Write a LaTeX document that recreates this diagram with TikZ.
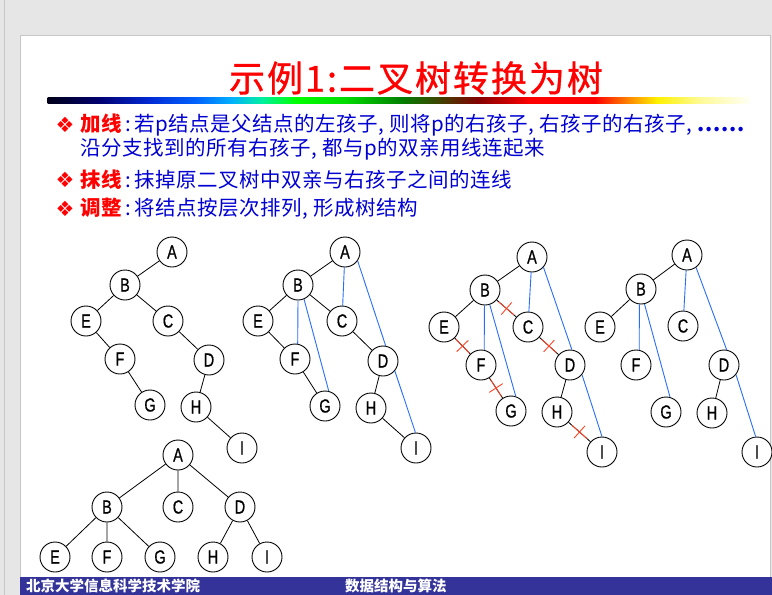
\documentclass[tikz,border=0pt]{standalone}
\usepackage{graphicx}
\usepackage{fontspec}
\usetikzlibrary{calc}
\setmainfont{Liberation Sans}
\newfontfamily\cjk{Noto Sans CJK SC}
\newfontfamily\cjktitle{Noto Sans CJK SC}[FakeBold=0.8, LetterSpace=5.5]
\newfontfamily\cjkrule{Noto Sans CJK SC}[LetterSpace=2.5]
\newfontfamily\dingfont{DejaVu Sans}
\newfontfamily\nodefont{Liberation Sans}[FakeBold=0.9]

\definecolor{slidegray}{RGB}{230,230,230}
\definecolor{framegray}{RGB}{198,198,198}
\definecolor{footblue}{RGB}{51,51,153}
\definecolor{textblue}{RGB}{0,0,210}
\definecolor{linkblue}{RGB}{40,110,250}
\definecolor{cutred}{RGB}{255,70,40}

% letters inside the tree nodes are set narrow
\newcommand\lab[1]{\scalebox{0.76}[1]{#1}}
% a cut mark across the edge between two nodes
\newcommand\cutmark[2]{%
  \coordinate (cm) at ($(#1)!0.5!(#2)$);
  \draw[cut] ($(cm)!10pt!(#1)$) -- ($(cm)!10pt!(#2)$);
  \draw[cut] ($(cm)!8pt!90:(#2)$) -- ($(cm)!8pt!-90:(#2)$);}

\tikzset{
  tn/.style={circle, draw, line width=0.9pt, minimum size=30pt, inner sep=0pt,
    fill=white, font=\nodefont\fontsize{19}{19}\selectfont},
  edge/.style={line width=0.8pt},
  link/.style={linkblue, line width=0.9pt},
  cut/.style={cutred, line width=0.9pt},
  bullet/.style={text=red, font=\dingfont\fontsize{21}{21}\selectfont, inner sep=0pt},
  rule/.style={anchor=west, inner sep=0pt, text=textblue,
    font=\cjkrule\fontsize{20.5}{20.5}\selectfont},
  foot/.style={anchor=west, inner sep=0pt, text=white,
    font=\cjk\bfseries\fontsize{14.5}{14.5}\selectfont},
}

\begin{document}
\begin{tikzpicture}[x=1pt, y=-1pt]
\useasboundingbox (0,0) rectangle (772,595);

% window backdrop and slide sheet
\fill[slidegray] (0,0) rectangle (772,595);
\draw[framegray, line width=0.8pt] (4,0) -- (4,595);
\fill[white] (20,35) rectangle (771,595);
\draw[framegray, line width=0.8pt] (20.4,595) -- (20.4,35.4) -- (770.6,35.4) -- (770.6,595);

% title
\node[text=red, inner sep=0pt, font=\cjktitle\fontsize{36}{36}\selectfont]
  (title) at (416,78) {示例1:二叉树转换为树};

% rainbow rule under the title
\foreach \xa/\xb/\ca/\cb in {
  48/98/{rgb,255:red,0;green,0;blue,25}/{rgb,255:red,0;green,0;blue,110},
  98/148/{rgb,255:red,0;green,0;blue,110}/{rgb,255:red,0;green,40;blue,210},
  148/197/{rgb,255:red,0;green,40;blue,210}/{rgb,255:red,0;green,100;blue,255},
  197/231/{rgb,255:red,0;green,100;blue,255}/{rgb,255:red,0;green,175;blue,255},
  231/262/{rgb,255:red,0;green,175;blue,255}/{rgb,255:red,0;green,240;blue,160},
  262/296/{rgb,255:red,0;green,240;blue,160}/{rgb,255:red,0;green,255;blue,0},
  296/345/{rgb,255:red,0;green,255;blue,0}/{rgb,255:red,0;green,220;blue,0},
  345/400/{rgb,255:red,0;green,220;blue,0}/{rgb,255:red,0;green,130;blue,0},
  400/443/{rgb,255:red,0;green,130;blue,0}/{rgb,255:red,70;green,60;blue,0},
  443/478/{rgb,255:red,70;green,60;blue,0}/{rgb,255:red,130;green,0;blue,0},
  478/530/{rgb,255:red,130;green,0;blue,0}/{rgb,255:red,255;green,0;blue,0},
  530/595/{rgb,255:red,255;green,0;blue,0}/{rgb,255:red,255;green,0;blue,0},
  595/630/{rgb,255:red,255;green,0;blue,0}/{rgb,255:red,255;green,140;blue,0},
  630/657/{rgb,255:red,255;green,140;blue,0}/{rgb,255:red,255;green,240;blue,0},
  657/700/{rgb,255:red,255;green,240;blue,0}/{rgb,255:red,255;green,250;blue,150},
  700/749/{rgb,255:red,255;green,250;blue,150}/{rgb,255:red,255;green,255;blue,245}}
  \shade[left color=\ca, right color=\cb, shading angle=90] (\xa-0.3,97) rectangle (\xb+0.3,103);

% rules text
\node[bullet] (b1) at (65,125) {❖};
\node[rule] (r1) at (80,125) {{\bfseries\color{red}加线}\,:\,若p结点是父结点的左孩子, 则将p的右孩子, 右孩子的右孩子, {\addfontfeature{LetterSpace=4}\bfseries......}};
\node[rule] (r1b) at (80,149) {沿分支找到的所有右孩子, 都与p的双亲用线连起来};
\node[bullet] (b2) at (65,180) {❖};
\node[rule] (r2) at (80,180) {{\bfseries\color{red}抹线}\,:\,抹掉原二叉树中双亲与右孩子之间的连线};
\node[bullet] (b3) at (65,209) {❖};
\node[rule] (r3) at (80,209) {{\bfseries\color{red}调整}\,:\,将结点按层次排列, 形成树结构};

% tree 1: the binary tree
\node[tn] (aA) at (172,252) {\lab A};
\node[tn] (aB) at (125,285) {\lab B};
\node[tn] (aE) at (86,321) {\lab E};
\node[tn] (aC) at (168,321) {\lab C};
\node[tn] (aF) at (120,359) {\lab F};
\node[tn] (aD) at (209,360) {\lab D};
\node[tn] (aG) at (150,405) {\lab G};
\node[tn] (aH) at (196,407) {\lab H};
\node[tn] (aI) at (242,448) {\lab I};
\draw[edge] (aA)--(aB) (aB)--(aE) (aB)--(aC) (aE)--(aF) (aC)--(aD) (aF)--(aG) (aD)--(aH) (aH)--(aI);

% tree 2: lines added
\node[tn] (bA) at (345,252) {\lab A};
\node[tn] (bB) at (298,285) {\lab B};
\node[tn] (bE) at (258,321) {\lab E};
\node[tn] (bC) at (342,321) {\lab C};
\node[tn] (bF) at (295,359) {\lab F};
\node[tn] (bD) at (383,361) {\lab D};
\node[tn] (bG) at (325,406) {\lab G};
\node[tn] (bH) at (371,408) {\lab H};
\node[tn] (bI) at (416,448) {\lab I};
\draw[edge] (bA)--(bB) (bB)--(bE) (bB)--(bC) (bE)--(bF) (bC)--(bD) (bF)--(bG) (bD)--(bH) (bH)--(bI);
\draw[link] (bA)--(bC) (bA.-35)--(bD.80) (bB.-90)--(bF.80) (bB.-67)--(bG.76) (bD.-40)--(bI.92);

% tree 3: right-child lines struck out
\node[tn] (cA) at (532,257) {\lab A};
\node[tn] (cB) at (485,290) {\lab B};
\node[tn] (cE) at (444,327) {\lab E};
\node[tn] (cC) at (528,327) {\lab C};
\node[tn] (cF) at (481,365) {\lab F};
\node[tn] (cD) at (570,365) {\lab D};
\node[tn] (cG) at (511,411) {\lab G};
\node[tn] (cH) at (557,412) {\lab H};
\node[tn] (cI) at (602,452) {\lab I};
\draw[edge] (cA)--(cB) (cB)--(cE) (cB)--(cC) (cE)--(cF) (cC)--(cD) (cF)--(cG) (cD)--(cH) (cH)--(cI);
\draw[link] (cA)--(cC) (cA.-42)--(cD.83) (cB.-92)--(cF.78) (cB.-72)--(cG.72) (cD.-39)--(cI.90);
\cutmark{cB}{cC}
\cutmark{cE}{cF}
\cutmark{cC}{cD}
\cutmark{cF}{cG}
\cutmark{cH}{cI}

% tree 4: after removing the struck lines
\node[tn] (dA) at (687,255) {\lab A};
\node[tn] (dB) at (641,289) {\lab B};
\node[tn] (dE) at (600,327) {\lab E};
\node[tn] (dC) at (683,326) {\lab C};
\node[tn] (dF) at (636,365) {\lab F};
\node[tn] (dD) at (724,365) {\lab D};
\node[tn] (dG) at (666,412) {\lab G};
\node[tn] (dH) at (712,413) {\lab H};
\node[tn] (dI) at (757,452) {\lab I};
\draw[edge] (dA)--(dB) (dB)--(dE) (dD)--(dH);
\draw[link] (dA)--(dC) (dA.-54)--(dD.80) (dB.-96)--(dF.78) (dB.-77)--(dG.75) (dD.-39)--(dI.95);

% tree 5: the resulting tree
\node[tn] (eA) at (178,455) {\lab A};
\node[tn] (eB) at (107,507) {\lab B};
\node[tn] (eC) at (178,507) {\lab C};
\node[tn] (eD) at (240,507) {\lab D};
\node[tn] (eE) at (55,557) {\lab E};
\node[tn] (eF) at (107,557) {\lab F};
\node[tn] (eG) at (160,557) {\lab G};
\node[tn] (eH) at (213,557) {\lab H};
\node[tn] (eI) at (267,557) {\lab I};
\draw[edge] (eA)--(eB) (eA)--(eC) (eA)--(eD) (eB)--(eE) (eB)--(eF) (eB)--(eG) (eD)--(eH) (eD)--(eI);

% footer band
\fill[footblue] (20,576.5) rectangle (772,595);
\node[foot] (f1) at (26,586) {北京大学信息科学技术学院};
\node[foot] (f2) at (345,586) {数据结构与算法};
\end{tikzpicture}
\end{document}
